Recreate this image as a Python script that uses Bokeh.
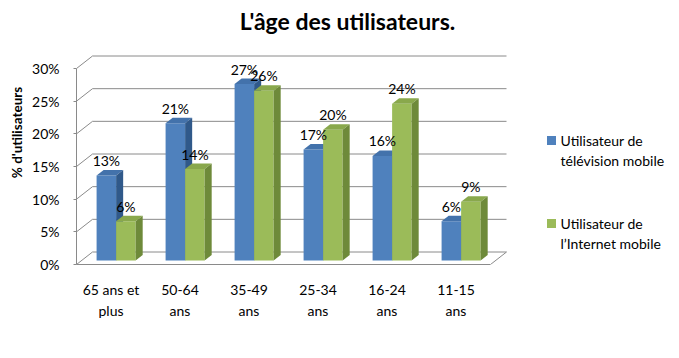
from bokeh.plotting import figure
from bokeh.models import Range1d, FixedTicker, Label
from bokeh.embed import file_html
from bokeh.resources import INLINE
from bokeh.core.properties import value

# ---- data ----
categories = ["65 ans et\nplus", "50-64\nans", "35-49\nans", "25-34\nans", "16-24\nans", "11-15\nans"]
tv_mobile = [13, 21, 27, 17, 16, 6]
internet_mobile = [6, 14, 26, 20, 24, 9]
y_ticks = [0, 5, 10, 15, 20, 25, 30]
series_names = ["Utilisateur de\ntélévision mobile", "Utilisateur de\nl\u2019Internet mobile"]
title_text = "L'âge des utilisateurs."
x_title = "Age des utilisateurs"
y_title = "% d'utilisateurs"

# ---- layout ----
W, H = 679, 358
LEFT, BOTTOM = 76, 94
PX_X = 69.0      # px per category
PX_Y = 6.533     # px per percent
frame_w = W - LEFT
frame_h = H - BOTTOM
x_end = frame_w / PX_X
y_end = frame_h / PX_Y
DEPTH_X = 16 / PX_X
DEPTH_Y = 12.5 / PX_Y
F0, F1 = 0.32, 0.76
BAR_W = 0.283
FONT = "Lato"
GRID = "#8a8a8a"
FS = "14px"

front_cols = ["#4f81bd", "#9bbb59"]
top_cols = ["#4372ab", "#89a84c"]
side_cols = ["#30598a", "#6e8a3a"]


def proj(px, py, f):
    return px + f * DEPTH_X, py + f * DEPTH_Y


def at(xr, yr):
    # canvas pixel -> data coordinates (for text placement)
    return (xr - LEFT) / PX_X, (frame_h - yr) / PX_Y


p = figure(width=W, height=H, output_backend="svg", toolbar_location=None,
           x_range=Range1d(0, x_end), y_range=Range1d(0, y_end),
           min_border_left=LEFT, min_border_right=0, min_border_top=0,
           min_border_bottom=BOTTOM, title=None)
p.outline_line_color = None
p.background_fill_color = "white"
p.border_fill_color = "white"
p.xgrid.visible = False
p.ygrid.visible = False

n = len(categories)

# walls / gridlines
gxs, gys = [], []
for t in y_ticks:
    a = proj(0, t, 0)
    b = proj(0, t, 1)
    c = proj(n, t, 1)
    gxs.append([a[0], b[0], c[0]])
    gys.append([a[1], b[1], c[1]])
a = proj(n, 0, 0)
b = proj(n, 0, 1)
gxs.append([a[0], b[0]])
gys.append([a[1], b[1]])
p.multi_line(gxs, gys, line_color=GRID, line_width=1)

# bars
xs, ys, fills = [], [], []
lab_x, lab_y, lab_t = [], [], []
series = [tv_mobile, internet_mobile]
for i in range(n):
    c = i + 0.5
    for s, vals in enumerate(series):
        v = vals[i]
        x0 = c - BAR_W + s * BAR_W
        x1 = x0 + BAR_W
        faces = [
            ([(x0, 0, F0), (x1, 0, F0), (x1, v, F0), (x0, v, F0)], front_cols[s]),
            ([(x0, v, F0), (x1, v, F0), (x1, v, F1), (x0, v, F1)], top_cols[s]),
            ([(x1, 0, F0), (x1, 0, F1), (x1, v, F1), (x1, v, F0)], side_cols[s]),
        ]
        for pts, col in faces:
            pp = [proj(*q) for q in pts]
            xs.append([q[0] for q in pp])
            ys.append([q[1] for q in pp])
            fills.append(col)
        lx, ly = proj((x0 + x1) / 2, v, F0)
        lab_x.append(lx)
        lab_y.append(ly)
        lab_t.append(f"{v}%")
p.patches(xs, ys, fill_color=fills, line_color=None)

p.text(lab_x, lab_y, text=lab_t, text_font=value(FONT), text_font_size=FS,
       text_align="center", text_baseline="alphabetic", y_offset=-15, text_color="black")

# axes
ya = p.yaxis[0]
ya.ticker = FixedTicker(ticks=y_ticks)
ya.major_label_overrides = {t: f"{t}%" for t in y_ticks}
ya.bounds = (0, 30)
ya.minor_tick_line_color = None
ya.major_tick_in = 0
ya.major_tick_out = 3
ya.major_tick_line_color = GRID
ya.axis_line_color = GRID
ya.major_label_standoff = 14
ya.major_label_text_font = FONT
ya.major_label_text_font_size = FS
ya.major_label_text_color = "black"
ya.axis_label = y_title
ya.axis_label_text_font = FONT
ya.axis_label_text_font_size = "13.5px"
ya.axis_label_text_font_style = "bold"
ya.axis_label_text_color = "black"
ya.axis_label_standoff = 4

xa = p.xaxis[0]
xa.ticker = FixedTicker(ticks=[i + 0.5 for i in range(n)])
xa.major_label_overrides = {i + 0.5: categories[i] for i in range(n)}
xa.bounds = (0, n)
xa.minor_tick_line_color = None
xa.major_tick_line_color = None
xa.axis_line_color = GRID
xa.major_label_standoff = 10
xa.major_label_text_font = FONT
xa.major_label_text_font_size = FS
xa.major_label_text_color = "black"
xa.major_label_text_line_height = 1.25

# title
tx, ty = at(347, 20)
p.text([tx], [ty], text=[title_text], text_font=value(FONT), text_font_size="23px",
       text_font_style="bold", text_align="center", text_baseline="middle", text_color="black")

# legend (manual)
for k, name in enumerate(series_names):
    yc = [140, 223][k]
    sx, sy = at(551, yc)
    p.scatter([sx], [sy], marker="square", size=9, fill_color=front_cols[k], line_color=None)
    for j, line in enumerate(name.split("\n")):
        lx, ly = at(560, yc + 20 * j)
        p.text([lx], [ly], text=[line], text_font=value(FONT), text_font_size=FS,
               text_align="left", text_baseline="middle", text_color="black")

# x title
xtx, xty = at(282, 338)
p.add_layout(Label(x=xtx, y=xty, text=x_title, text_font=FONT, text_font_size="13.5px",
                   text_font_style="bold", text_align="center", text_baseline="middle",
                   text_color="black"))

open("out.html", "w").write(file_html(p, INLINE))
